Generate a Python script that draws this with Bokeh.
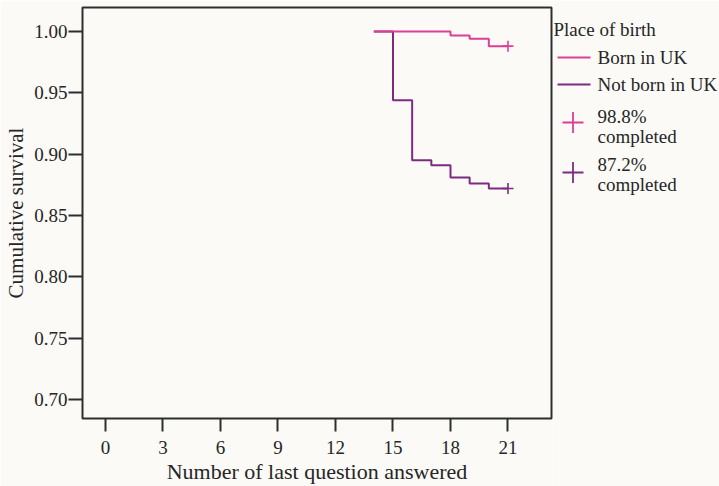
from bokeh.plotting import figure
from bokeh.models import Range1d, FixedTicker, NumeralTickFormatter
from bokeh.layouts import row
from bokeh.embed import file_html
from bokeh.resources import INLINE
from bokeh.core.properties import value

# ---- data ----
uk_question = [14, 18, 19, 20, 21]
uk_survival = [1.000, 0.9967, 0.994, 0.988, 0.988]
nonuk_question = [14, 15, 16, 17, 18, 19, 20, 21]
nonuk_survival = [1.000, 0.944, 0.895, 0.891, 0.881, 0.876, 0.872, 0.872]
censor_question = [21, 21]
censor_survival = [0.988, 0.872]
x_ticks = [0, 3, 6, 9, 12, 15, 18, 21]
y_ticks = [0.70, 0.75, 0.80, 0.85, 0.90, 0.95, 1.00]
legend_title = "Place of birth"
series_names = ["Born in UK", "Not born in UK"]
completed_pct = ["98.8%", "87.2%"]
completed_word = "completed"
x_label = "Number of last question answered"
y_label = "Cumulative survival"

# ---- style ----
BG = "#fbfaf7"
PINK = "#dc3f93"
PURPLE = "#7d2b80"
INK = "#262626"
FONT = "Liberation Serif"
FS = "19px"

p = figure(width=553, height=486,
           x_range=Range1d(-1.2, 23.27), y_range=Range1d(0.68455, 1.01951),
           output_backend="svg", toolbar_location=None,
           min_border_left=82, min_border_right=2, min_border_top=7, min_border_bottom=67,
           background_fill_color=BG, border_fill_color=BG,
           x_axis_label=x_label, y_axis_label=y_label)
p.grid.visible = False
p.outline_line_color = "#2e2e2e"
p.outline_line_width = 2

for ax in (p.xaxis[0], p.yaxis[0]):
    ax.axis_line_color = None
    ax.major_tick_in = 0
    ax.minor_tick_line_color = None
    ax.major_tick_line_color = "#2e2e2e"
    ax.major_tick_line_width = 2
    ax.major_label_text_font = FONT
    ax.major_label_text_font_size = FS
    ax.major_label_text_color = INK
    ax.axis_label_text_font = FONT
    ax.axis_label_text_font_style = "normal"
    ax.axis_label_text_color = INK

p.xaxis[0].axis_label_text_font_size = "22px"
p.yaxis[0].axis_label_text_font_size = "21px"
p.xaxis[0].ticker = FixedTicker(ticks=x_ticks)
p.xaxis[0].major_tick_out = 13
p.xaxis[0].major_label_standoff = 9
p.xaxis[0].axis_label_standoff = 2
p.yaxis[0].ticker = FixedTicker(ticks=y_ticks)
p.yaxis[0].formatter = NumeralTickFormatter(format="0.00")
p.yaxis[0].major_tick_out = 14
p.yaxis[0].major_label_standoff = 1
p.yaxis[0].axis_label_standoff = 3

p.step(nonuk_question, nonuk_survival, mode="after", line_color=PURPLE, line_width=2)
p.step(uk_question, uk_survival, mode="after", line_color=PINK, line_width=2)
p.scatter(censor_question, censor_survival, marker="cross", size=11,
          line_color=[PINK, PURPLE], line_width=1.6)

# ---- legend panel ----
lg = figure(width=166, height=486, frame_width=166, frame_height=486, title=None,
            x_range=Range1d(0, 166), y_range=Range1d(494, 8),
            output_backend="svg", toolbar_location=None,
            min_border=0, min_border_left=0, min_border_right=0,
            min_border_top=0, min_border_bottom=0,
            x_axis_location=None, y_axis_location=None,
            background_fill_color=BG, border_fill_color=BG, outline_line_color=None)
lg.grid.visible = False

lg.segment(x0=[4, 4], y0=[58, 85], x1=[37, 37], y1=[58, 85],
           line_color=[PINK, PURPLE], line_width=2)
lg.scatter(x=[19.5, 19.5], y=[123, 173], marker="cross", size=21,
           line_color=[PINK, PURPLE], line_width=1.8)

texts = [legend_title, series_names[0], series_names[1],
         completed_pct[0], completed_word, completed_pct[1], completed_word]
tx = [0, 44, 44, 44, 44, 44, 44]
ty = [30, 58, 85, 117, 137, 165, 185]
lg.text(x=tx, y=ty, text=texts, text_font=value(FONT), text_font_size=FS,
        text_color=INK, text_baseline="middle", text_align="left")

layout = row(p, lg)
open("out.html", "w").write(file_html(layout, INLINE))
